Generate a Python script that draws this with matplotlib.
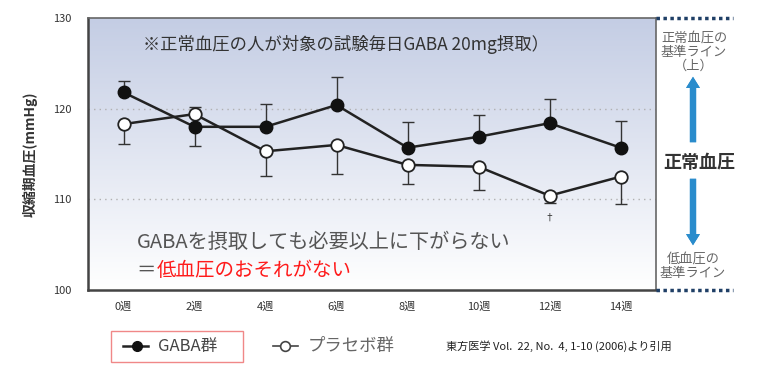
import numpy as np
import matplotlib.pyplot as plt
from matplotlib.lines import Line2D
from matplotlib.patches import Rectangle

plt.rcParams['font.family'] = ['Noto Sans CJK JP', 'DejaVu Sans']

weeks = [0, 2, 4, 6, 8, 10, 12, 14]
week_labels = ['0週', '2週', '4週', '6週', '8週', '10週', '12週', '14週']

gaba = [121.8, 118.0, 118.0, 120.4, 115.7, 116.9, 118.4, 115.7]
gaba_err_lo = [0, 2.1, 0, 0, 0, 0, 0, 0]
gaba_err_hi = [1.3, 0, 2.5, 3.1, 2.8, 2.4, 2.7, 2.9]

placebo = [118.3, 119.4, 115.3, 116.0, 113.8, 113.6, 110.4, 112.5]
placebo_err_lo = [2.2, 0, 2.7, 3.2, 2.1, 2.6, 0.8, 3.0]
placebo_err_hi = [0, 0.8, 0, 0, 0, 0, 0, 0]

W, H = 768, 378
fig = plt.figure(figsize=(7.68, 3.78), dpi=100)
ax = fig.add_axes([88 / W, 1 - 290 / H, (656 - 88) / W, (290 - 18) / H])

# gradient background
top = np.array([196, 205, 228]) / 255
t = np.linspace(0, 1, 256)[:, None]
grad = top * (1 - t[..., None]) + np.ones(3) * t[..., None]
grad = np.repeat(grad, 2, axis=1)
ax.imshow(grad, extent=[-1, 15, 100, 130], aspect='auto', zorder=0)

ax.set_xlim(-1, 15)
ax.set_ylim(100, 130)
for y in [110, 120]:
    ax.axhline(y, color='#b0b0b0', lw=1, ls=(0, (1, 3)), zorder=1)

ax.errorbar(weeks, placebo, yerr=[placebo_err_lo, placebo_err_hi], fmt='none',
            ecolor='#333333', elinewidth=1, capsize=4, capthick=1, zorder=2)
ax.errorbar(weeks, gaba, yerr=[gaba_err_lo, gaba_err_hi], fmt='none',
            ecolor='#333333', elinewidth=1, capsize=4, capthick=1, zorder=2)
ax.plot(weeks, placebo, '-o', color='#222222', lw=1.8, ms=9, mfc='white',
        mec='#222222', mew=1.3, zorder=3)
ax.plot(weeks, gaba, '-o', color='#222222', lw=1.8, ms=9, mfc='#111111',
        mec='#111111', zorder=4)
ax.text(12, 108.0, '†', ha='center', va='center', fontsize=7, color='#333333')

ax.set_xticks(weeks)
ax.set_xticklabels(week_labels, fontsize=8, color='#333333')
ax.set_yticks([100, 110, 120, 130])
ax.set_yticklabels(['100', '110', '120', '130'], fontsize=8, color='#333333')
ax.tick_params(axis='x', length=0, pad=8)
ax.tick_params(axis='y', length=0, pad=12)
for s in ax.spines.values():
    s.set_color('#666666')
    s.set_linewidth(1.2)
ax.spines['left'].set_color('#444444')
ax.spines['bottom'].set_color('#444444')
ax.spines['left'].set_linewidth(1.8)
ax.spines['bottom'].set_linewidth(1.8)
ax.set_ylabel('収縮期血圧(mmHg)', fontsize=10, color='#333333', labelpad=11,
              fontweight='bold')

def px(x, y):
    return x / W, 1 - y / H

fig.text(*px(143, 45), '※正常血圧の人が対象の試験毎日GABA 20mg摂取）',
         fontsize=12.5, color='#333333', va='center', ha='left')
fig.text(*px(137, 242), 'GABAを摂取しても必要以上に下がらない',
         fontsize=14.5, color='#555555', va='center', ha='left')
fig.text(*px(136, 270), '＝', fontsize=14, color='#555555', va='center', ha='left')
fig.text(*px(157, 270), '低血圧のおそれがない', fontsize=14, color='#ff1a1a',
         va='center', ha='left')

# right side annotations
navy = '#1f3f66'
fig.add_artist(Line2D([656 / W, 733 / W], [1 - 18 / H] * 2, color=navy, lw=2.5, ls=(0, (1, 1))))
fig.add_artist(Line2D([656 / W, 733 / W], [1 - 290 / H] * 2, color=navy, lw=2.5, ls=(0, (1, 1))))
fig.text(*px(694, 32), '正常血圧の\n基準ライン\n（上）', ha='center', va='top',
         fontsize=9.5, color='#666666', linespacing=1.1)
fig.text(*px(699, 162), '正常血圧', ha='center', va='center', fontsize=13,
         fontweight='bold', color='#333333')
fig.text(*px(693, 253), '低血圧の\n基準ライン', ha='center', va='top',
         fontsize=9.5, color='#666666', linespacing=1.1)
blue = '#2a8ccc'
arrow_style = 'simple,head_width=1.0,head_length=0.8,tail_width=0.45'
fig.add_artist(plt.annotate('', xy=px(693, 74), xytext=px(693, 145), xycoords='figure fraction',
                            arrowprops=dict(arrowstyle=arrow_style, color=blue, lw=0)))
fig.add_artist(plt.annotate('', xy=px(693, 248), xytext=px(693, 176), xycoords='figure fraction',
                            arrowprops=dict(arrowstyle=arrow_style, color=blue, lw=0)))

# legend
fig.add_artist(Rectangle(px(111, 362), (243 - 111) / W, (362 - 331) / H,
                         transform=fig.transFigure, fill=False, ec='#f08888', lw=1))
fig.add_artist(Line2D([123 / W, 148 / W], [1 - 346 / H] * 2, color='#222222', lw=1.8))
fig.add_artist(Line2D([137 / W], [1 - 346 / H], marker='o', ms=7, mfc='#111111', mec='#111111'))
fig.text(*px(158, 346), 'GABA群', fontsize=12, color='#444444', va='center')
fig.add_artist(Line2D([273 / W, 298 / W], [1 - 346 / H] * 2, color='#444444', lw=1.2))
fig.add_artist(Line2D([285 / W], [1 - 346 / H], marker='o', ms=7, mfc='white', mec='#444444', mew=1.2))
fig.text(*px(308, 346), 'プラセボ群', fontsize=12.5, color='#666666', va='center')
fig.text(*px(446, 346), '東方医学 Vol.  22, No.  4, 1-10 (2006)より引用', fontsize=8,
         color='#222222', va='center')

fig.savefig('out.png', dpi=100)
